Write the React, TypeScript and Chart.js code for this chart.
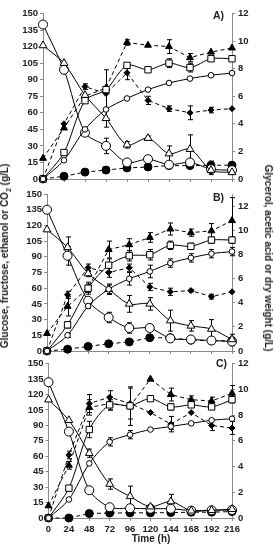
import React, { useEffect, useRef } from "react";
import { Chart, registerables } from "chart.js";
Chart.register(...registerables);

const hours = [0, 24, 48, 72, 96, 120, 144, 168, 192, 216];
const leftTicks = { min: 0, max: 150, step: 15 };

// Panel A
const glucoseA = [121, 105, 76, 55, 31, 37, 23, 27, 8, 6];
const fructoseA = [140, 99, 42, 30, 15, 18, 13, 15, 9, 8];
const ethanolA = [0, 24, 71, 81, 103, 99, 105, 101, 109, 109];
const co2A = [0, 17, 45, 63, 73, 81, 87, 91, 94, 96];
const glycerolA = [1.5, 3.7, 6.0, 6.6, 9.9, 9.7, 9.6, 8.8, 9.2, 9.5];
const aceticA = [0, 4.0, 6.7, 6.2, 7.7, 5.7, 5.1, 4.8, 5.0, 5.1];
const dryA = [0, 0.2, 0.5, 0.65, 0.8, 0.87, 0.97, 0.97, 1.0, 1.0];
const glucoseAErr = [0, 0, 0, 8, 3, 2, 7, 13, 4, 0];
const fructoseAErr = [0, 0, 0, 7, 0, 0, 0, 0, 0, 0];
const ethanolAErr = [0, 0, 0, 18, 0, 0, 4, 4, 0, 0];
const co2AErr = [0, 0, 0, 0, 0, 0, 0, 0, 0, 0];
const glycerolAErr = [0, 0, 0, 0, 0.2, 0, 0.5, 0.3, 0, 0];
const aceticAErr = [0, 0, 0.2, 0, 0.5, 0.3, 0.2, 0.5, 0.2, 0];
const dryAErr = [0, 0, 0, 0, 0, 0, 0, 0, 0.3, 0];

// Panel B
const glucoseB = [116, 99, 74, 59, 45, 45, 29, 24, 21, 11];
const fructoseB = [135, 91, 48, 32, 22, 22, 12, 11, 10, 9];
const ethanolB = [0, 25, 60, 82, 91, 92, 101, 100, 106, 106];
const co2B = [0, 15, 43, 59, 69, 76, 84, 89, 93, 95];
const glycerolB = [1.45, 3.7, 5.2, 8.4, 8.8, 9.4, 10.1, 9.8, 9.95, 10.8];
const aceticB = [0, 4.65, 6.9, 6.5, 6.9, 5.3, 4.9, 5.0, 4.5, 4.9];
const dryB = [0, 0.15, 0.38, 0.6, 0.75, 1.1, 1.1, 0.9, 0.85, 0.85];
const glucoseBErr = [0, 10, 3, 4, 8, 6, 10, 5, 9, 5];
const fructoseBErr = [0, 9, 3, 5, 5, 3, 3, 2, 2, 4];
const ethanolBErr = [0, 3, 4, 6, 5, 5, 4, 3, 3, 3];
const co2BErr = [0, 2, 2, 5, 6, 6, 4, 4, 4, 4];
const glycerolBErr = [0, 0.8, 0.5, 0.7, 0.5, 0.4, 0.5, 0.3, 0.6, 1.9];
const aceticBErr = [0, 0.3, 0.3, 0.4, 0.3, 0.3, 0.3, 0.1, 0.2, 0];
const dryBErr = [0, 0, 0, 0, 0, 0.2, 0.2, 0, 0, 0];

// Panel C
const glucoseC = [115, 95, 63, 33, 21, 11, 16, 7, 7.5, 8.5];
const fructoseC = [132, 84, 27, 10.5, 9.5, 9, 9, 7.2, 7.5, 7.8];
const ethanolC = [0, 29, 86, 110, 109, 116, 108, 110, 108, 115];
const co2C = [0, 18, 53, 74, 81, 86, 89, 92, 95, 96.5];
const glycerolC = [0.95, 4.1, 8.6, 8.9, 8.7, 10.8, 9.6, 9.2, 9.1, 9.7];
const aceticC = [0, 4.9, 8.9, 9.4, 8.9, 8.2, 7.3, 8.2, 7.2, 7.0];
const dryC = [0, 0, 0.35, 0.38, 0.4, 0.4, 0.42, 0.45, 0.45, 0.5];
const glucoseCErr = [0, 0, 4, 5, 10, 2, 7, 0, 0, 0];
const fructoseCErr = [0, 0, 0, 0, 0, 0, 0, 0, 0, 0];
const ethanolCErr = [0, 0, 8, 5, 3, 0, 3, 2, 2, 3];
const co2CErr = [0, 0, 0, 4, 4, 0, 3, 0, 0, 0];
const glycerolCErr = [0, 0.3, 0.6, 0.5, 1.5, 0, 0.5, 0.3, 0.3, 0.6];
const aceticCErr = [0, 0.3, 0.7, 0.5, 1.2, 0, 0.6, 0, 0.4, 0.5];
const dryCErr = [0, 0, 0, 0, 0, 0, 0, 0, 0, 0];

const FONT = "'Liberation Sans', Arial, sans-serif";
const AXIS_COLOR = "#8a8a8a";
const TEXT_COLOR = "#222";

type Series = { v: number[]; e: number[] };
type PanelDef = {
  label: string;
  glucose: Series; fructose: Series; ethanol: Series; co2: Series;
  glycerol: Series; acetic: Series; dry: Series;
  rightMax: number;
  canvasTop: number; canvasHeight: number;
  plotLeft: number; plotRight: number; plotTop: number; plotBottom: number;
  showX: boolean;
};

const panels: PanelDef[] = [
  {
    label: "A)",
    glucose: { v: glucoseA, e: glucoseAErr }, fructose: { v: fructoseA, e: fructoseAErr },
    ethanol: { v: ethanolA, e: ethanolAErr }, co2: { v: co2A, e: co2AErr },
    glycerol: { v: glycerolA, e: glycerolAErr }, acetic: { v: aceticA, e: aceticAErr },
    dry: { v: dryA, e: dryAErr },
    rightMax: 12, canvasTop: 0, canvasHeight: 190,
    plotLeft: 43, plotRight: 232, plotTop: 13.5, plotBottom: 179, showX: false,
  },
  {
    label: "B)",
    glucose: { v: glucoseB, e: glucoseBErr }, fructose: { v: fructoseB, e: fructoseBErr },
    ethanol: { v: ethanolB, e: ethanolBErr }, co2: { v: co2B, e: co2BErr },
    glycerol: { v: glycerolB, e: glycerolBErr }, acetic: { v: aceticB, e: aceticBErr },
    dry: { v: dryB, e: dryBErr },
    rightMax: 13, canvasTop: 185, canvasHeight: 175,
    plotLeft: 47, plotRight: 232, plotTop: 194, plotBottom: 351, showX: false,
  },
  {
    label: "C)",
    glucose: { v: glucoseC, e: glucoseCErr }, fructose: { v: fructoseC, e: fructoseCErr },
    ethanol: { v: ethanolC, e: ethanolCErr }, co2: { v: co2C, e: co2CErr },
    glycerol: { v: glycerolC, e: glycerolCErr }, acetic: { v: aceticC, e: aceticCErr },
    dry: { v: dryC, e: dryCErr },
    rightMax: 12, canvasTop: 355, canvasHeight: 195,
    plotLeft: 48.5, plotRight: 232, plotTop: 362, plotBottom: 518, showX: true,
  },
];

const errorBarPlugin = {
  id: "errorBars",
  beforeDatasetsDraw(chart: any) {
    const ctx = chart.ctx;
    ctx.save();
    ctx.strokeStyle = "#000";
    ctx.lineWidth = 1;
    chart.data.datasets.forEach((ds: any) => {
      const errs: number[] = ds.errors || [];
      const ys = chart.scales[ds.yAxisID];
      const xs = chart.scales.x;
      ds.data.forEach((p: any, i: number) => {
        const e = errs[i];
        if (!e) return;
        const px = Math.round(xs.getPixelForValue(p.x)) + 0.5;
        const y1 = ys.getPixelForValue(p.y - e);
        const y2 = ys.getPixelForValue(p.y + e);
        ctx.beginPath();
        ctx.moveTo(px, y1);
        ctx.lineTo(px, y2);
        ctx.moveTo(px - 2.5, y1);
        ctx.lineTo(px + 2.5, y1);
        ctx.moveTo(px - 2.5, y2);
        ctx.lineTo(px + 2.5, y2);
        ctx.stroke();
      });
    });
    ctx.restore();
  },
};

function makeDataset(label: string, s: Series, axis: string, style: any) {
  return {
    label,
    data: hours.map((h, i) => ({ x: h, y: s.v[i] })),
    errors: s.e,
    yAxisID: axis,
    borderColor: "#000",
    borderWidth: 1,
    pointBorderColor: "#000",
    pointBorderWidth: 1,
    clip: false,
    ...style,
  };
}

function Panel({ def }: { def: PanelDef }) {
  const ref = useRef<HTMLCanvasElement>(null);
  useEffect(() => {
    if (!ref.current) return;
    const W = 274;
    const H = def.canvasHeight;
    const localTop = def.plotTop - def.canvasTop;
    const localBottom = def.plotBottom - def.canvasTop;
    const tickFont = { family: FONT, size: 9.5, weight: "bold" as const };
    const solid = { borderDash: [], tension: 0.3, pointBackgroundColor: "#fff" };
    const dashed = { borderDash: [4, 3], tension: 0, pointBackgroundColor: "#000" };
    const chart = new Chart(ref.current, {
      type: "line",
      data: {
        datasets: [
          makeDataset("CO2", def.co2, "y", { ...solid, pointStyle: "circle", pointRadius: 2.8 }),
          makeDataset("Ethanol", def.ethanol, "y", { ...solid, pointStyle: "rect", pointRadius: 4.5 }),
          makeDataset("Glucose", def.glucose, "y", { ...solid, pointStyle: "triangle", pointRadius: 4.5 }),
          makeDataset("Fructose", def.fructose, "y", { ...solid, pointStyle: "circle", pointRadius: 4.5 }),
          makeDataset("Glycerol", def.glycerol, "y1", { ...dashed, pointStyle: "triangle", pointRadius: 4 }),
          makeDataset("Acetic acid", def.acetic, "y1", { ...dashed, pointStyle: "rectRot", pointRadius: 3 }),
          makeDataset("Dry weight", def.dry, "y1", { ...dashed, pointStyle: "circle", pointRadius: 4 }),
        ] as any,
      },
      options: {
        animation: false,
        responsive: false,
        events: [],
        layout: { padding: { top: localTop, left: 0, right: 0, bottom: 0 } },
        plugins: { legend: { display: false }, tooltip: { enabled: false } },
        scales: {
          x: {
            type: "linear",
            min: 0,
            max: 216,
            ticks: {
              stepSize: 24,
              display: def.showX,
              font: tickFont,
              color: TEXT_COLOR,
              padding: 3,
              maxRotation: 0,
              autoSkip: false,
            },
            grid: { drawOnChartArea: false, drawTicks: true, tickLength: 3, color: AXIS_COLOR },
            border: { display: true, color: AXIS_COLOR },
            afterFit: (s: any) => { s.height = H - localBottom; },
          },
          y: {
            type: "linear",
            position: "left",
            min: leftTicks.min,
            max: leftTicks.max,
            ticks: { stepSize: leftTicks.step, font: tickFont, color: TEXT_COLOR, padding: 2 },
            grid: { drawOnChartArea: false, drawTicks: true, tickLength: 3, color: AXIS_COLOR },
            border: { display: true, color: AXIS_COLOR },
            afterFit: (s: any) => { s.width = def.plotLeft; },
          },
          y1: {
            type: "linear",
            position: "right",
            min: 0,
            max: def.rightMax,
            ticks: { stepSize: 2, font: tickFont, color: TEXT_COLOR, padding: 3 },
            afterBuildTicks: (s: any) => {
              s.ticks = s.ticks.filter((t: any) => t.value % 2 === 0);
            },
            grid: { drawOnChartArea: false, drawTicks: true, tickLength: 3, color: AXIS_COLOR },
            border: { display: true, color: AXIS_COLOR },
            afterFit: (s: any) => { s.width = W - def.plotRight; },
          },
        },
      } as any,
      plugins: [errorBarPlugin],
    });
    return () => chart.destroy();
  }, [def]);
  return (
    <canvas
      ref={ref}
      width={274}
      height={def.canvasHeight}
      style={{ position: "absolute", left: 0, top: def.canvasTop, width: 274, height: def.canvasHeight, display: "block" }}
    />
  );
}

const textStyle: React.CSSProperties = {
  position: "absolute",
  fontFamily: FONT,
  fontWeight: "bold",
  color: TEXT_COLOR,
  whiteSpace: "nowrap",
  lineHeight: 1,
};

export default function App() {
  return (
    <div style={{ position: "fixed", left: 0, top: 0, width: 274, height: 550, background: "#fff", overflow: "hidden" }}>
      {panels.map((p) => (
        <Panel key={p.label} def={p} />
      ))}
      {panels.map((p, i) => (
        <div
          key={"lbl" + p.label}
          style={{ ...textStyle, fontSize: 10.5, left: i === 2 ? 216 : 213, top: p.plotTop - 4 + (i === 1 ? 2 : 0) }}
        >
          {p.label}
        </div>
      ))}
      <div
        style={{
          ...textStyle,
          fontSize: 10,
          left: 6,
          top: 256,
          transform: "translate(-50%, -50%) rotate(-90deg)",
        }}
      >
        Glucose, fructose, ethanol or CO<sub style={{ fontSize: 7 }}>2</sub> (g/L)
      </div>
      <div
        style={{
          ...textStyle,
          fontSize: 10,
          left: 268,
          top: 258,
          transform: "translate(-50%, -50%) rotate(90deg)",
        }}
      >
        Glycerol, acetic acid or dry weight (g/L)
      </div>
      <div style={{ ...textStyle, fontSize: 10, left: 151, top: 539, transform: "translate(-50%, -50%)" }}>
        Time (h)
      </div>
    </div>
  );
}
